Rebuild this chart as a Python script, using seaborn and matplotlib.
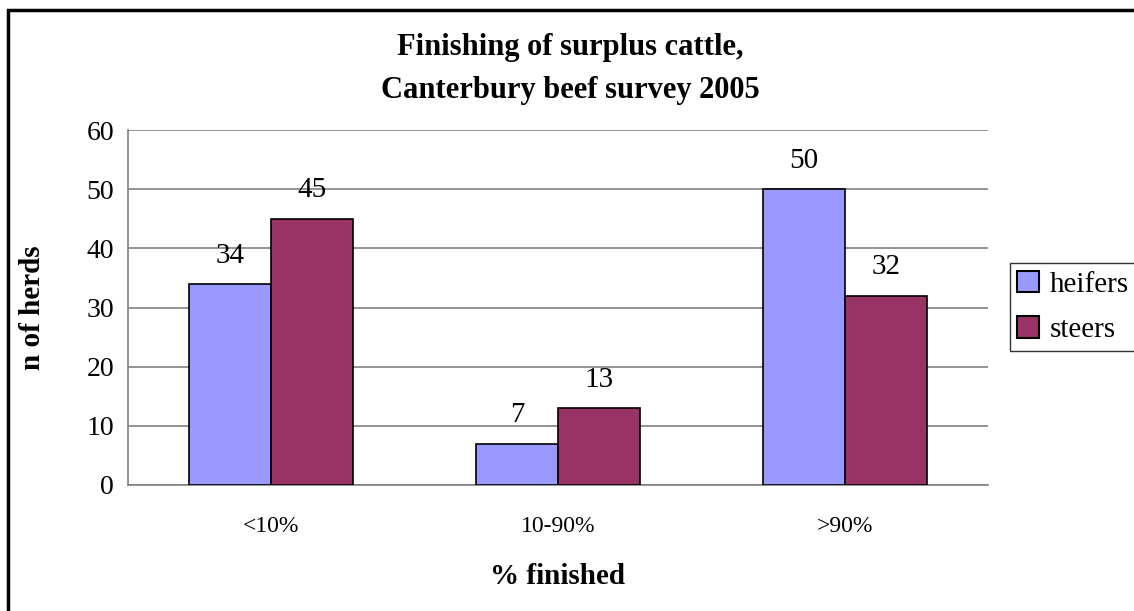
import matplotlib
matplotlib.use("Agg")
import matplotlib.pyplot as plt
from matplotlib.patches import Rectangle
import seaborn as sns
import pandas as pd

# data
categories = ["<10%", "10-90%", ">90%"]
heifers = [34, 7, 50]
steers = [45, 13, 32]
series = ["heifers", "steers"]
colors = ["#9999FF", "#993366"]

df = pd.DataFrame({
	"cat": categories * 2,
	"n": heifers + steers,
	"kind": ["heifers"] * 3 + ["steers"] * 3,
})

sns.set_theme(style="white")
plt.rcParams["font.family"] = ["Liberation Serif", "DejaVu Serif"]
plt.rcParams["text.color"] = "black"
plt.rcParams["xtick.color"] = "black"
plt.rcParams["ytick.color"] = "black"
plt.rcParams["axes.labelcolor"] = "black"

fig = plt.figure(figsize=(11.34, 6.11), dpi=100)
ax = fig.add_axes([128 / 1134, 1 - 485 / 611, (988 - 128) / 1134, (485 - 130) / 611])

sns.barplot(data=df, x="cat", y="n", hue="kind", hue_order=series,
			palette=colors, width=0.572, saturation=1, edgecolor="black",
			linewidth=1.2, ax=ax, zorder=3)

# value labels above bars
for c in ax.containers:
	ax.bar_label(c, fmt="%d", padding=11, fontsize=21)

ax.set_xlim(-0.5, 2.5)
ax.set_ylim(0, 60)
ax.set_yticks(range(0, 61, 10))
ax.yaxis.grid(True, color="#808080", linewidth=1.2, zorder=0)
ax.set_axisbelow(True)
for s in ["top", "right"]:
	ax.spines[s].set_visible(False)
for s in ["left", "bottom"]:
	ax.spines[s].set_color("#808080")
	ax.spines[s].set_linewidth(1.2)

# category boundary ticks like excel
ax.set_xticks([0, 1, 2])
ax.set_xticklabels(categories, fontsize=17)
ax.set_xticks([-0.5, 0.5, 1.5, 2.5], minor=True)
ax.tick_params(axis="x", which="major", length=0, pad=22)
ax.tick_params(axis="x", which="minor", length=6, color="#808080", width=1.2, direction="out")
ax.tick_params(axis="y", length=6, color="#808080", width=1.2, direction="out",
			   labelsize=20, labelcolor="black", pad=4)

ax.set_xlabel("% finished", fontsize=21, fontweight="bold", labelpad=19)
ax.set_ylabel("n of herds", fontsize=21, fontweight="bold", labelpad=29)

fig.text(570 / 1134, 1 - 69 / 611, "Finishing of surplus cattle,\nCanterbury beef survey 2005",
		ha="center", va="center", fontsize=22, fontweight="bold", linespacing=1.6)

leg = ax.legend(loc="center left", bbox_to_anchor=(1010 / 1134, 1 - 307 / 611),
				bbox_transform=fig.transFigure, frameon=True, fontsize=21,
				handlelength=0.75, handleheight=0.75, handletextpad=0.35,
				borderpad=0.25, labelspacing=0.65, borderaxespad=0, fancybox=False)
leg.get_frame().set_edgecolor("black")
leg.get_frame().set_linewidth(1.0)
for h in leg.legend_handles:
	h.set_edgecolor("black")
	h.set_linewidth(1.5)

# outer chart border, cut off at right and bottom
fig.patches.append(Rectangle((8 / 1134, -0.05), 1.2, 1 - 10 / 611 + 0.05,
							 transform=fig.transFigure, fill=False,
							 edgecolor="black", linewidth=2.5))

fig.savefig("out.png", dpi=100)
